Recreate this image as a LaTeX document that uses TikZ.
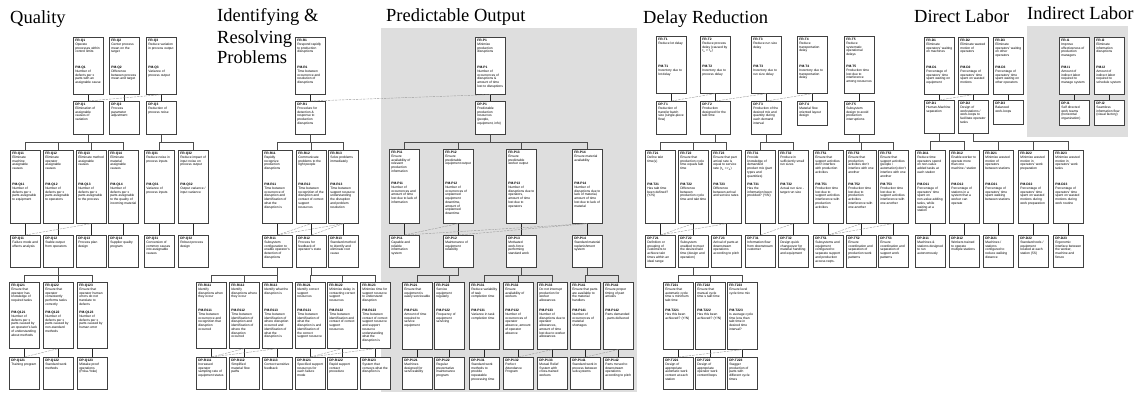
\documentclass[tikz,border=0pt]{standalone}
\usepackage{fontspec}
\setmainfont{Liberation Serif}
\setsansfont{Liberation Sans}
\usetikzlibrary{calc}

% text set inside every cell
\newcommand\cellfmt{\fontsize{3.3}{3.75}\selectfont\sffamily\raggedright\hyphenpenalty=10000\exhyphenpenalty=10000\relax}

% FR cell with its PM: name, x, y, height, height of FR part, id, FR text, PM text
\newcommand\frbox[8]{%
  \node[cell] (#1) at (#2,#3) {\parbox[t][\dimexpr#4pt-4pt\relax][t]{26pt}{\cellfmt
    \parbox[t][#5pt][t]{26pt}{\cellfmt\textbf{FR-#6}\\#7}\par
    \textbf{PM-#6}\\#8}};}
% DP cell: name, x, y, height, id, text
\newcommand\dpbox[6]{%
  \node[cell] (#1) at (#2,#3) {\parbox[t][\dimexpr#4pt-4pt\relax][t]{26pt}{\cellfmt\textbf{DP-#5}\\#6}};}

\newcommand\link[2]{\draw[fdl] (#1.south) -- (#2.north);}
\newcommand\tree[2]{\draw[treel] (#1.south) -- ++(0,7.5) -| (#2.north);}
\newcommand\dep[2]{\draw[depl] (#1.north) -- (#2.south);}

\begin{document}
\begin{tikzpicture}[x=1pt,y=-1pt,
  cell/.style={draw=black!75, line width=0.6pt, fill=white, inner sep=2pt, anchor=north west},
  fdl/.style={line width=1.5pt, black!85},
  treel/.style={line width=0.5pt, black!70},
  depl/.style={line width=0.4pt, black!40, dash pattern=on 2.5pt off 1pt},
  title/.style={font=\fontsize{18.5}{21}\selectfont, inner sep=0pt, anchor=base west},
  panel/.style={fill=black!13}]
\useasboundingbox (0,0) rectangle (1143,394);
\fill[white] (0,0) rectangle (1143,394);

% shaded panels
\fill[panel] (381,28) rectangle (637,392);
\fill[panel] (1027,26) rectangle (1128,137);

% headings
\node[title] (tQ) at (10,23) {Quality};
\node[title] (tR1) at (217,21) {Identifying \&};
\node[title] (tR2) at (217,43) {Resolving};
\node[title] (tR3) at (217,63) {Problems};
\node[title] (tP) at (386,21) {Predictable Output};
\node[title] (tT) at (643,23) {Delay Reduction};
\node[title] (tD) at (914,22) {Direct Labor};
\node[title] (tI) at (1027,19) {Indirect Labor};

% ---------------- Quality ----------------
\frbox{fQ1}{73}{37}{57}{26}{Q1}{Operate processes within control limits}{Number of defects per x parts with an assignable cause}
\frbox{fQ2}{109}{37}{57}{26}{Q2}{Center process mean on the target}{Difference between process mean and target}
\frbox{fQ3}{146}{37}{57}{26}{Q3}{Reduce variation in process output}{Variance of process output}
\dpbox{dQ1}{73}{101}{33}{Q1}{Elimination of assignable causes of variation}
\dpbox{dQ2}{109}{101}{33}{Q2}{Process parameter adjustment}
\dpbox{dQ3}{146}{101}{33}{Q3}{Reduction of process noise}

\frbox{fQ11}{10}{150}{73}{30}{Q11}{Eliminate machine assignable causes}{Number of defects per x parts assignable to equipment}
\frbox{fQ12}{43}{150}{73}{30}{Q12}{Eliminate operator assignable causes}{Number of defects per x parts assignable to operators}
\frbox{fQ13}{76}{150}{73}{30}{Q13}{Eliminate method assignable causes}{Number of defects per x parts assignable to the process}
\frbox{fQ14}{108}{150}{73}{30}{Q14}{Eliminate material assignable causes}{Number of defects per x parts assignable to the quality of incoming material}
\frbox{fQ31}{144}{150}{73}{30}{Q31}{Reduce noise in process inputs}{Variance of process inputs}
\frbox{fQ32}{178}{150}{73}{30}{Q32}{Reduce impact of input noise on process output}{Output variance / input variance}
\dpbox{dQ11}{10}{235}{32}{Q11}{Failure mode and effects analysis}
\dpbox{dQ12}{43}{235}{32}{Q12}{Stable output from operators}
\dpbox{dQ13}{76}{235}{32}{Q13}{Process plan design}
\dpbox{dQ14}{108}{235}{32}{Q14}{Supplier quality program}
\dpbox{dQ31}{144}{235}{32}{Q31}{Conversion of common causes into assignable causes}
\dpbox{dQ32}{178}{235}{32}{Q32}{Robust process design}

\frbox{fQ121}{9}{282}{66}{26}{Q121}{Ensure that operator has knowledge of required tasks}{Number of defects per x parts caused by an operator's lack of understanding about methods}
\frbox{fQ122}{43}{282}{66}{26}{Q122}{Ensure that operator consistently performs tasks correctly}{Number of defects per x parts caused by non-standard methods}
\frbox{fQ123}{77}{282}{66}{26}{Q123}{Ensure that operator human errors do not translate to defects}{Number of defects per x parts caused by human error}
\dpbox{dQ121}{9}{357}{32}{Q121}{Training program}
\dpbox{dQ122}{43}{357}{32}{Q122}{Standard work methods}
\dpbox{dQ123}{77}{357}{32}{Q123}{Mistake proof operations (Poka-Yoke)}

% ---------------- Identifying & Resolving Problems ----------------
\frbox{fR1}{295}{37}{57}{26}{R1}{Respond rapidly to production disruptions}{Time between occurrence and resolution of disruptions}
\dpbox{dR1}{295}{101}{33}{R1}{Procedure for detection \& response to production disruptions}

\frbox{fR11}{262}{150}{73}{30}{R11}{Rapidly recognize production disruptions}{Time between occurrence of disruption and identification of what the disruption is}
\frbox{fR12}{296}{150}{73}{30}{R12}{Communicate problems to the right people}{Time between recognition of the disruption and contact of correct support resources}
\frbox{fR13}{328}{150}{73}{30}{R13}{Solve problems immediately}{Time between support resource understanding the disruption and problem resolution}
\dpbox{dR11}{262}{235}{32}{R11}{Subsystem configuration to enable operator's detection of disruptions}
\dpbox{dR12}{296}{235}{32}{R12}{Process for feedback of operator's state}
\dpbox{dR13}{328}{235}{32}{R13}{Standard method to identify and eliminate root cause}

\frbox{fR111}{196}{282}{66}{24}{R111}{Identify disruptions when they occur}{Time between occurrence and recognition that disruption occurred}
\frbox{fR112}{229}{282}{66}{24}{R112}{Identify disruptions where they occur}{Time between identification of disruption and identification of where the disruption occurred}
\frbox{fR113}{262}{282}{66}{24}{R113}{Identify what the disruption is}{Time between identification of where disruption occurred and identification of what the disruption is}
\frbox{fR121}{295}{282}{66}{24}{R121}{Identify correct support resources}{Time between identification of what the disruption is and identification of the correct support resource}
\frbox{fR122}{327}{282}{66}{24}{R122}{Minimize delay in contacting correct support resources}{Time between identification and contact of correct support resources}
\frbox{fR123}{360}{282}{66}{24}{R123}{Minimize time for support resource to understand disruption}{Time between contact of correct support resource and support resource understanding what the disruption is}
\dpbox{dR111}{196}{357}{32}{R111}{Increased operator sampling rate of equipment status}
\dpbox{dR112}{229}{357}{32}{R112}{Simplified material flow paths}
\dpbox{dR113}{262}{357}{32}{R113}{Context sensitive feedback}
\dpbox{dR121}{295}{357}{32}{R121}{Specified support resources for each failure mode}
\dpbox{dR122}{327}{357}{32}{R122}{Rapid support contact procedure}
\dpbox{dR123}{360}{357}{32}{R123}{System that conveys what the disruption is}

% ---------------- Predictable Output ----------------
\frbox{fP1}{475}{37}{57}{26}{P1}{Minimize production disruptions}{Number of occurrences of disruptions \& amount of time lost to disruptions}
\dpbox{dP1}{475}{101}{33}{P1}{Predictable production resources (people, equipment, info)}

\frbox{fP11}{389}{149}{74}{30}{P11}{Ensure availability of relevant production information}{Number of occurrences and amount of time lost due to lack of information}
\frbox{fP12}{443}{149}{74}{30}{P12}{Ensure predictable equipment output}{Number of occurrences of unplanned equipment downtime, amount of unplanned downtime}
\frbox{fP13}{506}{149}{74}{30}{P13}{Ensure predictable worker output}{Number of disruptions due to operators, amount of time lost due to operators}
\frbox{fP14}{572}{149}{74}{30}{P14}{Ensure material availability}{Number of disruptions due to lack of material, amount of time lost due to lack of material}
\dpbox{dP11}{389}{235}{32}{P11}{Capable and reliable information system}
\dpbox{dP12}{443}{235}{32}{P12}{Maintenance of equipment reliability}
\dpbox{dP13}{506}{235}{32}{P13}{Motivated work-force performing standard work}
\dpbox{dP14}{572}{235}{32}{P14}{Standard material replenishment system}

\frbox{fP121}{402}{282}{67}{24}{P121}{Ensure that equipment is easily serviceable}{Amount of time required to service equipment}
\frbox{fP122}{434}{282}{67}{24}{P122}{Service equipment regularly}{Frequency of equipment servicing}
\frbox{fP131}{469}{282}{67}{24}{P131}{Reduce variability of task completion time}{Variance in task completion time}
\frbox{fP132}{503}{282}{67}{24}{P132}{Ensure availability of workers}{Number of occurrences of operator absence, amount of operator absence}
\frbox{fP133}{537}{282}{67}{24}{P133}{Do not interrupt production for worker allowances}{Number of disruptions due to operator allowances, amount of time lost due to worker allowances}
\frbox{fP141}{570}{282}{67}{24}{P141}{Ensure that parts are available to the material handlers}{Number of occurrences of material shortages}
\frbox{fP142}{603}{282}{67}{24}{P142}{Ensure proper timing of part arrivals}{Parts demanded - parts delivered}
\dpbox{dP121}{402}{357}{32}{P121}{Machines designed for serviceability}
\dpbox{dP122}{434}{357}{32}{P122}{Regular preventative maintenance program}
\dpbox{dP131}{469}{357}{32}{P131}{Standard work methods to provide repeatable processing time}
\dpbox{dP132}{503}{357}{32}{P132}{Perfect Attendance Program}
\dpbox{dP133}{537}{357}{32}{P133}{Mutual Relief System with cross-trained workers}
\dpbox{dP141}{570}{357}{32}{P141}{Standard work in process between sub-systems}
\dpbox{dP142}{603}{357}{32}{P142}{Parts moved to downstream operations according to pitch}

% ---------------- Delay Reduction ----------------
\frbox{fT1}{656}{36}{57}{26}{T1}{Reduce lot delay}{Inventory due to lot delay}
\frbox{fT2}{700}{36}{57}{26}{T2}{Reduce process delay (caused by r\textsubscript{a} > r\textsubscript{d})}{Inventory due to process delay}
\frbox{fT3}{751}{36}{57}{26}{T3}{Reduce run size delay}{Inventory due to run size delay}
\frbox{fT4}{797}{36}{57}{26}{T4}{Reduce transportation delay}{Inventory due to transportation delay}
\frbox{fT5}{844}{36}{57}{26}{T5}{Reduce systematic operational delays}{Production time lost due to interference among resources}
\dpbox{dT1}{656}{101}{33}{T1}{Reduction of transfer batch size (single-piece flow)}
\dpbox{dT2}{700}{101}{33}{T2}{Production designed for the takt time}
\dpbox{dT3}{751}{101}{33}{T3}{Production of the desired mix and quantity during each demand interval}
\dpbox{dT4}{797}{101}{24}{T4}{Material flow oriented layout design}
\dpbox{dT5}{844}{101}{33}{T5}{Subsystem design to avoid production interruptions}

\frbox{fT21}{645}{150}{73}{30}{T21}{Define takt time(s)}{Has takt time been defined? (Y/N)}
\frbox{fT22}{678}{150}{73}{30}{T22}{Ensure that production cycle time equals takt time}{Difference between production cycle time and takt time}
\frbox{fT23}{711}{150}{73}{30}{T23}{Ensure that part arrival rate is equal to service rate (r\textsubscript{a} = r\textsubscript{d})}{Difference between arrival and service rates}
\frbox{fT31}{745}{150}{73}{30}{T31}{Provide knowledge of demanded product mix (part types and quantities)}{Has the information been provided? (Y/N)}
\frbox{fT32}{778}{150}{73}{30}{T32}{Produce in sufficiently small run sizes}{Actual run size - target run size}
\frbox{fT51}{813}{150}{73}{30}{T51}{Ensure that support activities don't interfere with production activities}{Production time lost due to support activities interference with production activities}
\frbox{fT52}{846}{150}{73}{30}{T52}{Ensure that production activities don't interfere with one another}{Production time lost due to production activities interference with one another}
\frbox{fT53}{878}{150}{73}{30}{T53}{Ensure that support activities (people / automation) don't interfere with one another}{Production time lost due to support activities interference with one another}
\dpbox{dT21}{645}{235}{32}{T21}{Definition or grouping of customers to achieve takt times within an ideal range}
\dpbox{dT22}{678}{235}{32}{T22}{Subsystem enabled to meet the desired takt time (design and operation)}
\dpbox{dT23}{711}{235}{32}{T23}{Arrival of parts at downstream operations according to pitch}
\dpbox{dT31}{745}{235}{32}{T31}{Information flow from downstream customer}
\dpbox{dT32}{778}{235}{32}{T32}{Design quick changeover for material handling and equipment}
\dpbox{dT51}{813}{235}{32}{T51}{Subsystems and equipment configured to separate support and production access reqts.}
\dpbox{dT52}{846}{235}{32}{T52}{Ensure coordination and separation of production work patterns}
\dpbox{dT53}{878}{235}{32}{T53}{Ensure coordination and separation of support work patterns}

\frbox{fT221}{663}{282}{67}{24}{T221}{Ensure that automatic cycle time ≤ minimum takt time}{Has this been achieved? (Y/N)}
\frbox{fT222}{695}{282}{67}{24}{T222}{Ensure that manual cycle time ≤ takt time}{Has this been achieved? (Y/N)}
\frbox{fT223}{727}{282}{67}{24}{T223}{Ensure level cycle time mix}{Is average cycle time less than takt time in desired time interval?}
\dpbox{dT221}{663}{357}{32}{T221}{Design of appropriate automatic work content at each station}
\dpbox{dT222}{695}{357}{32}{T222}{Design of appropriate operator work content/loops}
\dpbox{dT223}{727}{357}{32}{T223}{Stagger production of parts with different cycle times}

% ---------------- Direct Labor ----------------
\frbox{fD1}{924}{37}{57}{26}{D1}{Eliminate operators' waiting on machines}{Percentage of operators' time spent waiting on equipment}
\frbox{fD2}{958}{37}{57}{26}{D2}{Eliminate wasted motion of operators}{Percentage of operators' time spent on wasted motions}
\frbox{fD3}{993}{37}{57}{26}{D3}{Eliminate operators' waiting on other operators}{Percentage of operators' time spent waiting on other operators}
\dpbox{dD1}{924}{100}{33}{D1}{Human-Machine separation}
\dpbox{dD2}{958}{100}{33}{D2}{Design of workstations / work-loops to facilitate operator tasks}
\dpbox{dD3}{993}{100}{24}{D3}{Balanced work-loops}

\frbox{fD11}{915}{150}{73}{30}{D11}{Reduce time operators spend on non-value added tasks at each station}{Percentage of operators' time spent on non-value adding tasks, while waiting at a station}
\frbox{fD12}{949}{150}{73}{30}{D12}{Enable worker to operate more than one machine / station}{Percentage of stations in a system that a worker can operate}
\frbox{fD21}{983}{150}{73}{30}{D21}{Minimize wasted motion of operators between stations}{Percentage of operators' time spent walking between stations}
\frbox{fD22}{1018}{150}{73}{30}{D22}{Minimize wasted motion in operators' work preparation}{Percentage of operators' time spent on wasted motions during work preparation}
\frbox{fD23}{1053}{150}{73}{30}{D23}{Minimize wasted motion in operators' work tasks}{Percentage of operators' time spent on wasted motions during work routine}
\dpbox{dD11}{915}{235}{32}{D11}{Machines \& stations designed to run autonomously}
\dpbox{dD12}{949}{235}{32}{D12}{Workers trained to operate multiple stations}
\dpbox{dD21}{983}{235}{32}{D21}{Machines / stations configured to reduce walking distance}
\dpbox{dD22}{1018}{235}{32}{D22}{Standard tools / equipment located at each station (5S)}
\dpbox{dD23}{1053}{235}{32}{D23}{Ergonomic interface between the worker, machine and fixture}

% ---------------- Indirect Labor ----------------
\frbox{fI1}{1059}{37}{57}{26}{I1}{Improve effectiveness of production managers}{Amount of indirect labor required to manage system}
\frbox{fI2}{1094}{37}{57}{26}{I2}{Eliminate information disruptions}{Amount of indirect labor required to schedule system}
\dpbox{dI1}{1059}{100}{25}{I1}{Self directed work teams (horizontal organization)}
\dpbox{dI2}{1094}{100}{25}{I2}{Seamless information flow (visual factory)}

% ---------------- FR -> DP links ----------------
\foreach \n in {Q1,Q2,Q3,Q11,Q12,Q13,Q14,Q31,Q32,Q121,Q122,Q123,
  R1,R11,R12,R13,R111,R112,R113,R121,R122,R123,
  P1,P11,P12,P13,P14,P121,P122,P131,P132,P133,P141,P142,
  T1,T2,T3,T4,T5,T21,T22,T23,T31,T32,T51,T52,T53,T221,T222,T223,
  D1,D2,D3,D11,D12,D21,D22,D23,I1,I2}
  {\link{f\n}{d\n}}

% ---------------- decomposition trees ----------------
\foreach \c in {Q11,Q12,Q13,Q14} {\tree{dQ1}{f\c}}
\foreach \c in {Q31,Q32} {\tree{dQ3}{f\c}}
\foreach \c in {Q121,Q122,Q123} {\tree{dQ12}{f\c}}
\foreach \c in {R11,R12,R13} {\tree{dR1}{f\c}}
\foreach \c in {R111,R112,R113} {\tree{dR11}{f\c}}
\foreach \c in {R121,R122,R123} {\tree{dR12}{f\c}}
\foreach \c in {P11,P12,P13,P14} {\tree{dP1}{f\c}}
\foreach \c in {P121,P122} {\tree{dP12}{f\c}}
\foreach \c in {P131,P132,P133} {\tree{dP13}{f\c}}
\foreach \c in {P141,P142} {\tree{dP14}{f\c}}
\foreach \c in {T21,T22,T23} {\tree{dT2}{f\c}}
\foreach \c in {T31,T32} {\tree{dT3}{f\c}}
\foreach \c in {T51,T52,T53} {\tree{dT5}{f\c}}
\foreach \c in {T221,T222,T223} {\tree{dT22}{f\c}}
\foreach \c in {D11,D12} {\tree{dD1}{f\c}}
\foreach \c in {D21,D22,D23} {\tree{dD2}{f\c}}

% ---------------- off-diagonal couplings ----------------
\dep{dQ1}{fQ3}
\dep{dR1}{fP1}
\dep{dT1}{fT2}
\dep{dT2}{fT3}
\dep{dT3}{fT4}
\dep{dD1}{fD2}
\dep{dQ11}{fQ13}
\dep{dR11}{fR12}
\dep{dR11}{fR13}
\dep{dR12}{fR13}
\dep{dP11}{fP12}
\dep{dP11}{fP14}
\dep{dP12}{fP14}
\dep{dT21}{fT22}
\dep{dT21}{fT23}
\dep{dT31}{fT32}
\dep{dT51}{fT52}
\dep{dT51}{fT53}
\dep{dQ121}{fQ122}
\dep{dR111}{fR112}
\dep{dR111}{fR113}
\dep{dR121}{fR122}
\dep{dR121}{fR123}
\dep{dP132}{fP133}
\dep{dP141}{fP142}
\dep{dT221}{fT223}
\end{tikzpicture}
\end{document}
